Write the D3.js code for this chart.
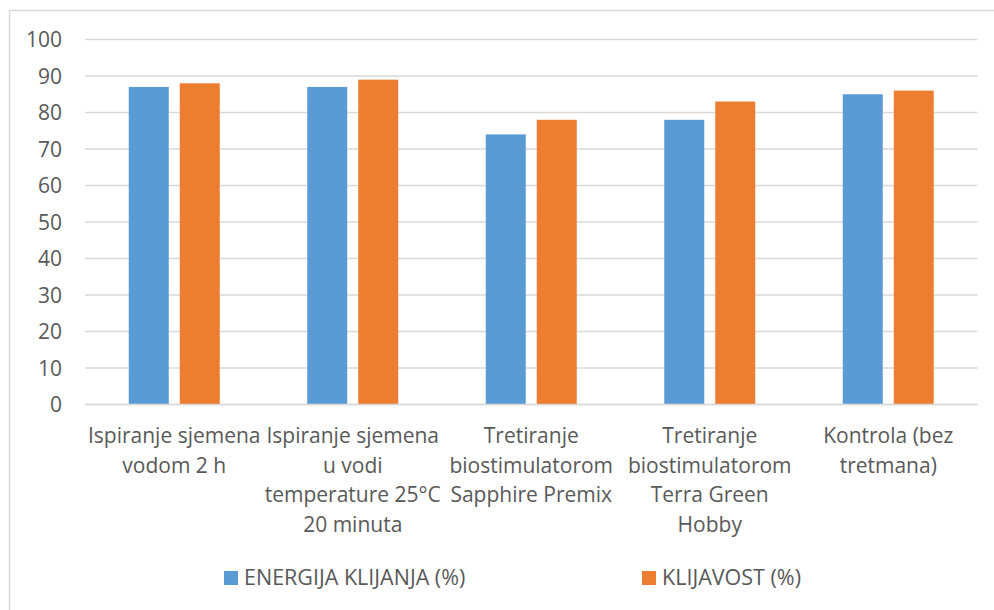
<!DOCTYPE html>
<html>
<head>
<meta charset="utf-8">
<script src="https://cdn.jsdelivr.net/npm/d3@7"></script>
<style>
  body { margin: 0; background: #fff; }
  svg { display: block; font-family: "Open Sans", sans-serif; }
</style>
</head>
<body>
<svg id="chart"></svg>
<script>
var width = 994,
    height = 610;

// categories (each label split into its wrapped lines)
var categories = [
  ["Ispiranje sjemena", "vodom 2 h"],
  ["Ispiranje sjemena", "u vodi", "temperature 25°C", "20 minuta"],
  ["Tretiranje", "biostimulatorom", "Sapphire Premix"],
  ["Tretiranje", "biostimulatorom", "Terra Green", "Hobby"],
  ["Kontrola (bez", "tretmana)"]
];
var seriesNames = ["ENERGIJA KLIJANJA (%)", "KLIJAVOST (%)"];
var energija = [87, 87, 74, 78, 85];
var klijavost = [88, 89, 78, 83, 86];
var yTicks = [0, 10, 20, 30, 40, 50, 60, 70, 80, 90, 100];
var colors = ["#5b9bd5", "#ed7d31"];

var margin = {left: 85, right: 16.5, top: 39.5, bottom: 205.5};

var svg = d3.select("#chart")
  .attr("width", width)
  .attr("height", height);

// chart area border (cropped on right and bottom)
svg.append("rect")
  .attr("x", 9.5).attr("y", 10.5)
  .attr("width", 1000).attr("height", 700)
  .attr("fill", "none")
  .attr("stroke", "#d9d9d9")
  .attr("stroke-width", 1.5);

var x0 = d3.scaleBand()
  .domain(d3.range(categories.length))
  .range([margin.left, width - margin.right]);

var x1 = d3.scaleBand()
  .domain([0, 1])
  .range([0, 91])
  .paddingInner(0.2157);

var y = d3.scaleLinear()
  .domain([0, 100])
  .range([height - margin.bottom, margin.top]);

// gridlines
svg.append("g")
  .selectAll("line")
  .data(yTicks)
  .join("line")
  .attr("x1", margin.left)
  .attr("x2", width - margin.right)
  .attr("y1", d => y(d))
  .attr("y2", d => y(d))
  .attr("stroke", "#d9d9d9")
  .attr("stroke-width", 1.5);

// y labels
svg.append("g")
  .selectAll("text")
  .data(yTicks)
  .join("text")
  .attr("x", 62)
  .attr("y", d => y(d))
  .attr("dy", "0.36em")
  .attr("text-anchor", "end")
  .attr("font-size", 21)
  .attr("fill", "#595959")
  .text(d => d);

// bars
var rows = categories.map((c, i) => [energija[i], klijavost[i]]);

var group = svg.append("g")
  .selectAll("g")
  .data(rows)
  .join("g")
  .attr("transform", (d, i) => `translate(${x0(i) + x0.bandwidth() / 2 - 45.5},0)`);

group.selectAll("rect")
  .data(d => d)
  .join("rect")
  .attr("x", (d, j) => x1(j))
  .attr("y", d => y(d))
  .attr("width", x1.bandwidth())
  .attr("height", d => y(0) - y(d))
  .attr("fill", (d, j) => colors[j]);

// baseline over the bars
svg.append("line")
  .attr("x1", margin.left)
  .attr("x2", width - margin.right)
  .attr("y1", y(0))
  .attr("y2", y(0))
  .attr("stroke", "#d9d9d9")
  .attr("stroke-width", 1.5);

// x labels
svg.append("g")
  .selectAll("text")
  .data(categories)
  .join("text")
  .attr("text-anchor", "middle")
  .attr("font-size", 21)
  .attr("fill", "#595959")
  .attr("transform", (d, i) => `translate(${x0(i) + x0.bandwidth() / 2},443)`)
  .selectAll("tspan")
  .data(d => d)
  .join("tspan")
  .attr("x", 0)
  .attr("y", (d, i) => i * 29.5)
  .text(d => d);

// legend
var legendX = [224, 642];
var legend = svg.append("g")
  .selectAll("g")
  .data(seriesNames)
  .join("g")
  .attr("transform", (d, i) => `translate(${legendX[i]},571)`);

legend.append("rect")
  .attr("width", 14)
  .attr("height", 14)
  .attr("fill", (d, i) => colors[i]);

legend.append("text")
  .attr("x", 20)
  .attr("y", 14)
  .attr("font-size", 21.5)
  .attr("fill", "#595959")
  .text(d => d);
</script>
</body>
</html>
